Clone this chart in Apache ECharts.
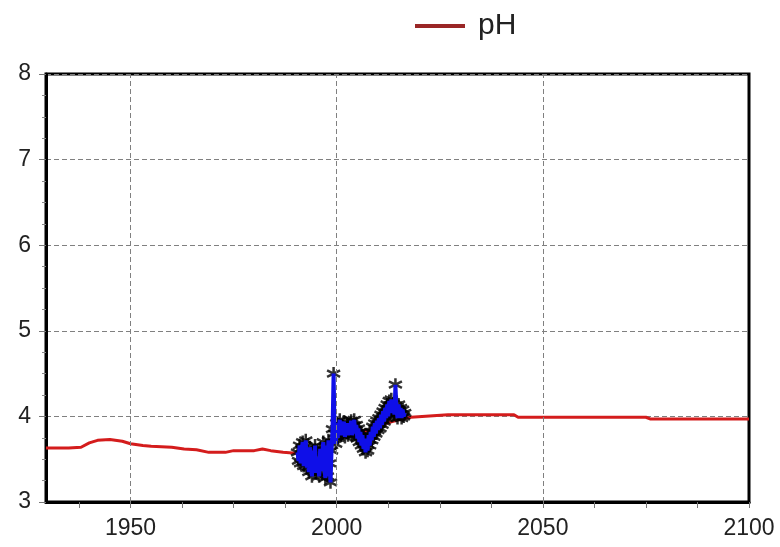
<!DOCTYPE html>
<html>
<head>
<meta charset="utf-8">
<title>pH</title>
<script src="https://cdn.jsdelivr.net/npm/echarts@6/dist/echarts.min.js"></script>
<style>
  html, body { margin: 0; padding: 0; background: #fff; }
  #chart { width: 780px; height: 547px; }
</style>
</head>
<body>
<div id="chart"></div>
<script>
// modelled pH (red line)
const modelYears = [1929.5, 1935, 1938, 1940, 1942, 1945, 1948, 1950, 1953, 1955, 1960, 1963, 1966, 1969,
  1973, 1975, 1980, 1982, 1984, 1987, 1990, 1992, 1995, 1998, 2000, 2003, 2006, 2009, 2012, 2015,
  2018, 2027, 2043, 2044, 2075, 2076, 2100]
const modelPH = [3.63, 3.63, 3.64, 3.69, 3.72, 3.73, 3.71, 3.68, 3.66, 3.65, 3.64, 3.62, 3.61, 3.58,
  3.58, 3.60, 3.60, 3.62, 3.60, 3.58, 3.57, 3.56, 3.60, 3.70, 3.80, 3.83, 3.82, 3.85, 3.92, 3.96,
  3.99, 4.02, 4.02, 3.99, 3.99, 3.97, 3.97]

// observed pH (blue line with black stars), quarterly
const obsYears = [
  1990.5, 1990.75, 1991, 1991.25, 1991.5, 1991.75, 1992, 1992.25, 1992.5, 1992.75,
  1993, 1993.25, 1993.5, 1993.75, 1994, 1994.25, 1994.5, 1994.75, 1995, 1995.25,
  1995.5, 1995.75, 1996, 1996.25, 1996.5, 1996.75, 1997, 1997.25, 1997.5, 1997.75,
  1998, 1998.25, 1998.5, 1998.75, 1999, 1999.25, 1999.5, 1999.75, 2000, 2000.25,
  2000.5, 2000.75, 2001, 2001.25, 2001.5, 2001.75, 2002, 2002.25, 2002.5, 2002.75,
  2003, 2003.25, 2003.5, 2003.75, 2004, 2004.25, 2004.5, 2004.75, 2005, 2005.25,
  2005.5, 2005.75, 2006, 2006.25, 2006.5, 2006.75, 2007, 2007.25, 2007.5, 2007.75,
  2008, 2008.25, 2008.5, 2008.75, 2009, 2009.25, 2009.5, 2009.75, 2010, 2010.25,
  2010.5, 2010.75, 2011, 2011.25, 2011.5, 2011.75, 2012, 2012.25, 2012.5, 2012.75,
  2013, 2013.25, 2013.5, 2013.75, 2014, 2014.25, 2014.5, 2014.75, 2015, 2015.25,
  2015.5, 2015.75, 2016, 2016.25, 2016.5]
const obsPH = [
  3.58, 3.48, 3.66, 3.45, 3.62, 3.70, 3.42, 3.58, 3.72, 3.40,
  3.55, 3.35, 3.64, 3.44, 3.30, 3.60, 3.38, 3.66, 3.34, 3.52,
  3.42, 3.30, 3.62, 3.36, 3.58, 3.70, 3.40, 3.28, 3.66, 3.30,
  3.72, 3.45, 3.23, 3.60, 3.85, 4.50, 3.80, 3.68, 3.92, 3.75,
  3.88, 3.96, 3.78, 3.90, 3.80, 3.94, 3.76, 3.86, 3.92, 3.78,
  3.90, 3.82, 3.95, 3.78, 3.88, 3.96, 3.80, 3.90, 3.74, 3.86,
  3.70, 3.82, 3.66, 3.78, 3.62, 3.74, 3.58, 3.70, 3.60, 3.78,
  3.66, 3.82, 3.72, 3.88, 3.76, 3.92, 3.80, 3.95, 3.84, 3.98,
  3.86, 4.02, 3.90, 4.06, 3.94, 4.10, 3.98, 4.14, 4.00, 4.18,
  4.04, 4.20, 4.06, 4.15, 4.02, 4.37, 4.08, 3.98, 4.14, 4.02,
  4.10, 3.98, 4.08, 4.00, 4.04]

const xLabelYears = [1950, 2000, 2050, 2100]
const xTickYears = [1937.5, 1950, 1962.5, 1975, 1987.5, 2000, 2012.5, 2025, 2037.5, 2050, 2062.5, 2075, 2087.5, 2100]
const xGridYears = [1950, 2000, 2050]

const font = 'Liberation Sans, Arial, sans-serif'
const star = 'path://M0,-10L0,10M-8.66,-5L8.66,5M-8.66,5L8.66,-5'
const gridDash = { color: '#808080', type: [5, 3], width: 1 }

const chart = echarts.init(document.getElementById('chart'))

chart.setOption({
  animation: false,
  backgroundColor: '#fff',
  legend: {
    data: [{ name: 'pH', itemStyle: { color: '#9a2626' } }],
    left: 410,
    top: 6,
    icon: 'rect',
    itemWidth: 50,
    itemHeight: 4,
    textStyle: { fontSize: 30, color: '#222', fontFamily: font, padding: [0, 0, 0, 8] }
  },
  grid: {
    left: 46,
    right: 31,
    top: 74,
    bottom: 45,
    show: true,
    borderColor: '#000',
    borderWidth: 3
  },
  xAxis: {
    type: 'value',
    min: 1929.5,
    max: 2100,
    axisLine: { lineStyle: { color: '#000', width: 3 } },
    axisTick: { customValues: xTickYears, length: 6, lineStyle: { color: '#777' } },
    axisLabel: {
      customValues: xLabelYears,
      formatter: v => String(v),
      fontSize: 23,
      color: '#222',
      fontFamily: font,
      margin: 15
    },
    splitLine: { show: false }
  },
  yAxis: {
    type: 'value',
    min: 3,
    max: 8,
    interval: 1,
    axisLine: { show: true, lineStyle: { color: '#000', width: 3 } },
    axisTick: { show: true, length: 7, lineStyle: { color: '#777' } },
    minorTick: { show: true, splitNumber: 4, length: 4, lineStyle: { color: '#888' } },
    axisLabel: { fontSize: 23, color: '#222', fontFamily: font, margin: 15 },
    splitLine: { lineStyle: gridDash }
  },
  series: [
    {
      // vertical dashed grid lines
      type: 'line',
      data: [],
      z: 1,
      markLine: {
        silent: true,
        symbol: 'none',
        label: { show: false },
        lineStyle: gridDash,
        data: xGridYears.map(y => ({ xAxis: y }))
      }
    },
    {
      name: 'pH',
      type: 'line',
      z: 2,
      showSymbol: false,
      data: modelYears.map((y, i) => [y, modelPH[i]]),
      lineStyle: { color: '#d41c1c', width: 3 },
      itemStyle: { color: '#d41c1c' }
    },
    {
      name: 'obs',
      type: 'scatter',
      z: 3,
      symbol: star,
      symbolSize: 13,
      data: obsYears.map((y, i) => [y, obsPH[i]]),
      itemStyle: { color: 'transparent', borderColor: '#000', borderWidth: 2.5 }
    },
    {
      name: 'obs line',
      type: 'line',
      z: 4,
      showSymbol: false,
      data: obsYears.map((y, i) => [y, obsPH[i]]),
      lineStyle: { color: '#0f0fe8', width: 4 }
    }
  ]
})
</script>
</body>
</html>
